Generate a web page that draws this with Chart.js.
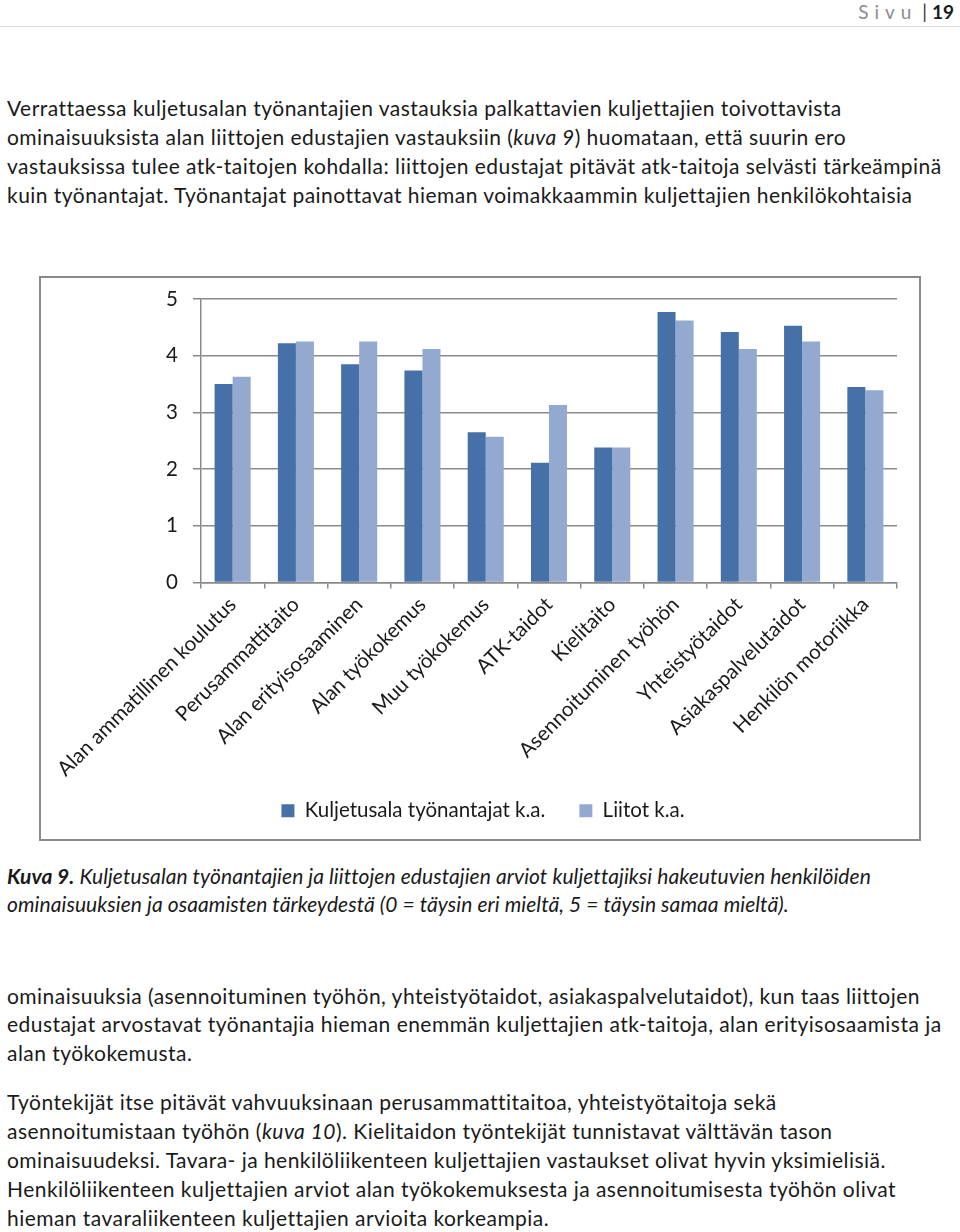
<!DOCTYPE html>
<html>
<head>
<meta charset="utf-8">
<script src="https://cdn.jsdelivr.net/npm/chart.js@4"></script>
<style>
  body { margin: 0; width: 960px; height: 1232px; background: #fff; position: relative; font-family: Lato, "Open Sans", sans-serif; color: #1a1a1a; }
  .ln { position: absolute; left: 7px; white-space: nowrap; font-size: 21px; letter-spacing: 0.46px; line-height: 28px; }
  .cap { font-style: italic; letter-spacing: 0.08px; }
  #hdr { position: absolute; right: 6px; top: 0; font-size: 19px; line-height: 24px; }
  #hdr .s { color: #8c8c8c; letter-spacing: 6px; }
  #hdr .n { font-weight: bold; }
  #rule { position: absolute; left: 0; right: 0; top: 26px; height: 1px; background: #ddd; }
  #box { position: absolute; left: 39px; top: 276px; width: 878px; height: 561px; border: 2px solid #8a8a8a; }
  #box canvas { display: block; }
</style>
</head>
<body>
<div id="hdr"><span class="s">Sivu</span> <span style="color:#333">|</span> <span class="n">19</span></div>
<div id="rule"></div>

<div class="ln" style="top:94px">Verrattaessa kuljetusalan työnantajien vastauksia palkattavien kuljettajien toivottavista</div>
<div class="ln" style="top:123px">ominaisuuksista alan liittojen edustajien vastauksiin (<i>kuva 9</i>) huomataan, että suurin ero</div>
<div class="ln" style="top:152px">vastauksissa tulee atk-taitojen kohdalla: liittojen edustajat pitävät atk-taitoja selvästi tärkeämpinä</div>
<div class="ln" style="top:181px">kuin työnantajat. Työnantajat painottavat hieman voimakkaammin kuljettajien henkilökohtaisia</div>

<div id="box"><canvas id="c" width="878" height="561"></canvas></div>

<div class="ln cap" style="top:862px"><b>Kuva 9.</b> Kuljetusalan työnantajien ja liittojen edustajien arviot kuljettajiksi hakeutuvien henkilöiden</div>
<div class="ln cap" style="top:890px">ominaisuuksien ja osaamisten tärkeydestä (0 = täysin eri mieltä, 5 = täysin samaa mieltä).</div>

<div class="ln" style="top:982px">ominaisuuksia (asennoituminen työhön, yhteistyötaidot, asiakaspalvelutaidot), kun taas liittojen</div>
<div class="ln" style="top:1010px">edustajat arvostavat työnantajia hieman enemmän kuljettajien atk-taitoja, alan erityisosaamista ja</div>
<div class="ln" style="top:1039px">alan työkokemusta.</div>
<div class="ln" style="top:1088px">Työntekijät itse pitävät vahvuuksinaan perusammattitaitoa, yhteistyötaitoja sekä</div>
<div class="ln" style="top:1117px">asennoitumistaan työhön (<i>kuva 10</i>). Kielitaidon työntekijät tunnistavat välttävän tason</div>
<div class="ln" style="top:1146px">ominaisuudeksi. Tavara- ja henkilöliikenteen kuljettajien vastaukset olivat hyvin yksimielisiä.</div>
<div class="ln" style="top:1175px">Henkilöliikenteen kuljettajien arviot alan työkokemuksesta ja asennoitumisesta työhön olivat</div>
<div class="ln" style="top:1204px">hieman tavaraliikenteen kuljettajien arvioita korkeampia.</div>

<script>
const categories = [
  'Alan ammatillinen koulutus', 'Perusammattitaito', 'Alan erityisosaaminen',
  'Alan työkokemus', 'Muu työkokemus', 'ATK-taidot', 'Kielitaito',
  'Asennoituminen työhön', 'Yhteistyötaidot', 'Asiakaspalvelutaidot', 'Henkilön motoriikka'
];
const employers = [3.50, 4.22, 3.85, 3.74, 2.65, 2.11, 2.38, 4.77, 4.42, 4.53, 3.45];
const unions = [3.63, 4.25, 4.25, 4.12, 2.57, 3.13, 2.38, 4.62, 4.12, 4.25, 3.39];
const yTicks = [0, 1, 2, 3, 4, 5];

const labelFont = { family: 'Lato, "Open Sans", sans-serif', size: 20.5 };

new Chart(document.getElementById('c'), {
  type: 'bar',
  data: {
    labels: categories,
    datasets: [
      { label: 'Kuljetusala työnantajat k.a.', data: employers, backgroundColor: '#4671A8' },
      { label: 'Liitot k.a.', data: unions, backgroundColor: '#94A9D0' }
    ]
  },
  options: {
    responsive: false,
    animation: false,
    categoryPercentage: 0.57,
    barPercentage: 1,
    layout: { padding: { top: 21, right: 22, bottom: 8, left: 28 } },
    plugins: {
      tooltip: { enabled: false },
      legend: {
        position: 'bottom',
        labels: { font: labelFont, color: '#1a1a1a', boxWidth: 13, boxHeight: 13, padding: 34 }
      }
    },
    scales: {
      y: {
        min: 0, max: 5,
        afterFit: s => { s.width = 132; s.paddingTop = 0; },
        afterBuildTicks: s => { s.ticks = yTicks.map(v => ({ value: v })); },
        border: { color: '#8a8a8a', width: 1.5 },
        grid: { color: '#8a8a8a', lineWidth: 1.5, tickLength: 8 },
        ticks: { font: labelFont, color: '#1a1a1a', padding: 15 }
      },
      x: {
        // long rotated labels run into the legend's padding, so don't clip them to the axis box
        afterFit: s => { s.height = 184; s._computeLabelArea = () => undefined; },
        border: { color: '#8a8a8a', width: 1.5 },
        grid: { drawOnChartArea: false, color: '#8a8a8a', lineWidth: 1.5, tickLength: 6, offset: true },
        ticks: { font: labelFont, color: '#1a1a1a', minRotation: 45, maxRotation: 45, autoSkip: false, padding: 4 }
      }
    }
  }
});
</script>
</body>
</html>
